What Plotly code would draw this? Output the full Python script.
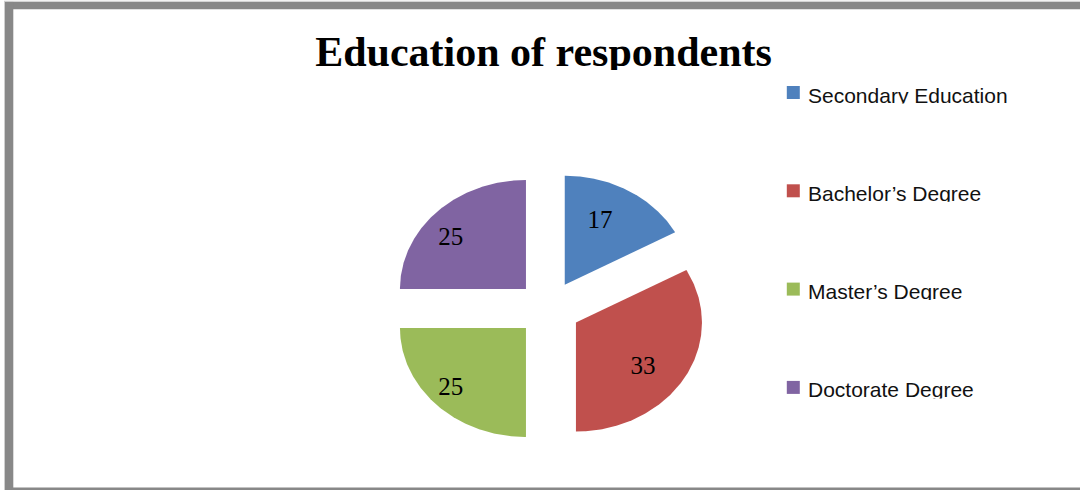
import numpy as np
import plotly.graph_objects as go

# ---------------- data ----------------
categories = ["Secondary Education", "Bachelor\u2019s Degree", "Master\u2019s Degree", "Doctorate Degree"]
values = [17, 33, 25, 25]
title_text = "Education of respondents"

# ---------------- style / layout constants ----------------
colors = ["#4F81BD", "#C0504D", "#9BBB59", "#8064A2"]
W, H = 1080, 490
CX, CY = 548.5, 308.5          # pie centre (px)
RX, RY = 126.0, 109.0          # pie radii (px)
EXPLODE = 0.253                # explosion as fraction of radius
LABEL_R = 0.72
LABEL_SHIFT = (-11.0, 5.0)
LABEL_FS = 25
TITLE_FS = 42
LEG_FS = 21
TITLE_X, TITLE_BASE, TITLE_CLIP = 543.5, 66.0, 70.0
LEG_SQ_X, LEG_TX_X = 793.3, 808.0
LEG_SQ_Y0, LEG_PITCH = 92.5, 98.3
LEG_BASE0 = 102.5

fig = go.Figure()

total = float(sum(values))
start = 0.0
lab_x, lab_y = [], []
for cat, v, col in zip(categories, values, colors):
    a0 = start / total * 2 * np.pi
    a1 = (start + v) / total * 2 * np.pi
    mid = (a0 + a1) / 2
    ox = CX + EXPLODE * RX * np.sin(mid)
    oy = CY - EXPLODE * RY * np.cos(mid)
    th = np.linspace(a0, a1, 160)
    xs = np.concatenate([[ox], ox + RX * np.sin(th), [ox]])
    ys = np.concatenate([[oy], oy - RY * np.cos(th), [oy]])
    fig.add_trace(go.Scatter(x=xs, y=ys, mode="lines", fill="toself", fillcolor=col,
                             line=dict(width=0, color=col), hoverinfo="skip",
                             showlegend=False, name=cat, xaxis="x", yaxis="y"))
    lab_x.append(ox + LABEL_R * RX * np.sin(mid) + LABEL_SHIFT[0])
    lab_y.append(oy - LABEL_R * RY * np.cos(mid) + LABEL_SHIFT[1])
    start += v

# data labels
fig.add_trace(go.Scatter(x=lab_x, y=lab_y, mode="text", text=[str(v) for v in values],
                         textposition="middle center",
                         textfont=dict(family="Liberation Serif", size=LABEL_FS, color="#000000"),
                         hoverinfo="skip", showlegend=False, xaxis="x", yaxis="y"))

# legend squares
n = len(categories)
sq_y = [LEG_SQ_Y0 + LEG_PITCH * i for i in range(n)]
fig.add_trace(go.Scatter(x=[LEG_SQ_X] * n, y=sq_y, mode="markers",
                         marker=dict(symbol="square", size=13, color=colors, line=dict(width=0)),
                         hoverinfo="skip", showlegend=False, xaxis="x", yaxis="y"))

layout = dict(
    width=W, height=H, autosize=False,
    margin=dict(l=0, r=0, t=0, b=0, pad=0),
    paper_bgcolor="white", plot_bgcolor="rgba(0,0,0,0)",
    showlegend=False,
    xaxis=dict(domain=[0, 1], range=[0, W], visible=False, fixedrange=True),
    yaxis=dict(domain=[0, 1], range=[H, 0], visible=False, fixedrange=True),
)

def band(idx, top, bottom):
    layout["xaxis%d" % idx] = dict(domain=[0, 1], range=[0, W], visible=False,
                                   fixedrange=True, anchor="y%d" % idx)
    layout["yaxis%d" % idx] = dict(domain=[1 - bottom / H, 1 - top / H], range=[bottom, top],
                                   visible=False, fixedrange=True, anchor="x%d" % idx)

# title (clipped at its bottom like the reference)
band(2, 0.0, TITLE_CLIP)
fig.add_trace(go.Scatter(x=[TITLE_X], y=[TITLE_BASE - 0.25 * TITLE_FS], mode="text",
                         text=["<b>%s</b>" % title_text], textposition="middle center",
                         textfont=dict(family="Liberation Serif", size=TITLE_FS, color="#000000"),
                         cliponaxis=True, hoverinfo="skip", showlegend=False,
                         xaxis="x2", yaxis="y2"))

# legend texts (each clipped at its baseline)
for i, cat in enumerate(categories):
    idx = 3 + i
    base = LEG_BASE0 + LEG_PITCH * i
    band(idx, base - 30.0, base + 1.0)
    fig.add_trace(go.Scatter(x=[LEG_TX_X], y=[base - 0.25 * LEG_FS], mode="text",
                             text=[cat], textposition="middle right",
                             textfont=dict(family="Liberation Sans", size=LEG_FS, color="#111111"),
                             cliponaxis=True, hoverinfo="skip", showlegend=False,
                             xaxis="x%d" % idx, yaxis="y%d" % idx))

# grey frame
def px_rect(x0, y0, x1, y1, color):
    return dict(type="rect", xref="paper", yref="paper", layer="above",
                x0=x0 / W, x1=x1 / W, y0=1 - y1 / H, y1=1 - y0 / H,
                fillcolor=color, line=dict(width=0))

layout["shapes"] = [
    px_rect(5.0, 1.7, W, 9.3, "#888888"),
    px_rect(5.0, 1.7, 13.3, H, "#888888"),
    px_rect(5.0, 487.5, W, H, "#888888"),
    px_rect(4.0, 1.0, 5.0, H, "#cfcfcf"),
    px_rect(4.0, 0.8, W, 1.7, "#cfcfcf"),
]

fig.update_layout(**layout)
fig.write_html("out.html",
               config={"displayModeBar": False, "staticPlot": True},
               post_script="document.body.style.margin='0px';document.body.style.overflow='hidden';")
